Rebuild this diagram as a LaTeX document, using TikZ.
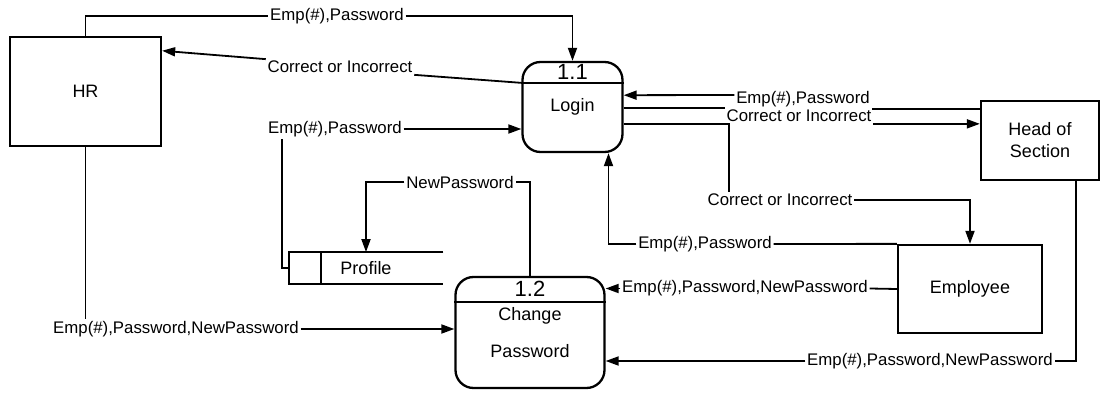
\documentclass[tikz,border=0pt]{standalone}
\usepackage{fontspec}
\setmainfont{Liberation Sans}
\usepackage{tikz}
\usetikzlibrary{arrows.meta}

\begin{document}
\begin{tikzpicture}[x=1pt, y=-1pt, line width=1.8pt,
    every node/.style={font=\fontsize{16.8}{20}\selectfont, inner sep=1pt},
    entity/.style={draw, rectangle, line width=2.3pt, font=\fontsize{18}{22}\selectfont, align=center},
    process/.style={draw, rectangle, rounded corners=18pt, line width=2.3pt, font=\fontsize{18}{22}\selectfont, align=center},
    procid/.style={font=\fontsize{22}{26}\selectfont},
    flow/.style={-{Triangle[length=13pt,width=9pt]}}]
    \useasboundingbox (0,0) rectangle (1104,393);

    % External entities
    \node[entity, minimum width=151pt, minimum height=109pt] (hr) at (85.5,91.5) {HR};
    \node[entity, minimum width=118pt, minimum height=79pt] (head) at (1040,140.5) {Head of\\Section};
    \node[entity, minimum width=144pt, minimum height=88pt] (emp) at (970,289) {Employee};

    % Processes
    \node[process, minimum width=100pt, minimum height=90pt] (login) at (572.5,107) {Login};
    \node[procid] (loginid) at ([yshift=-11pt]login.north) {1.1};
    \draw ([yshift=-22pt]login.north west) -- ([yshift=-22pt]login.north east);

    \node[process, minimum width=149pt, minimum height=111pt] (chpw) at (530,332.5) {Change\\[15pt]Password};
    \node[procid] (chpwid) at ([yshift=-13pt]chpw.north) {1.2};
    \draw ([yshift=-26pt]chpw.north west) -- ([yshift=-26pt]chpw.north east);

    % Data store
    \node[minimum width=153pt, minimum height=30pt, font=\fontsize{18}{22}\selectfont] (profile) at (366,268) {Profile};
    \draw (profile.north east) -- (profile.north west) -- (profile.south west) -- (profile.south east);
    \draw ([xshift=32pt]profile.north west) -- ([xshift=32pt]profile.south west);

    % Flow labels
    \node (hrlogin) at (337,16) {Emp(\#),Password};
    \node (loginhr) at (340,67) {Correct or Incorrect};
    \node (storelogin) at (335,129) {Emp(\#),Password};
    \node (newpw) at (460,182) {NewPassword};
    \node (headlogin) at (803,99) {Emp(\#),Password};
    \node (loginhead) at (799,116) {Correct or Incorrect};
    \node (loginemp) at (780,200) {Correct or Incorrect};
    \node (emplogin) at (705,244) {Emp(\#),Password};
    \node (empchpw) at (745,288.5) {Emp(\#),Password,NewPassword};
    \node (headchpw) at (930,361) {Emp(\#),Password,NewPassword};
    \node (hrchpw) at (176,329) {Emp(\#),Password,NewPassword};

    % Flows
    \draw (hr.north) |- (hrlogin.west);
    \draw[flow] (hrlogin.east) -| (login.north);
    \draw ([yshift=-22pt]login.north west) -- (loginhr.south east);
    \draw[flow] (loginhr.north west) -- (hr.28);
    \draw (profile.west) -| ([xshift=16pt]storelogin.south west);
    \draw[flow] (storelogin.east) -- (login.west |- storelogin.east);
    \draw (chpw.north) |- (newpw.east);
    \draw[flow] (newpw.west) -| (profile.north);
    \draw (head.west |- headlogin.south east) -- (headlogin.south east);
    \draw[flow] ([yshift=4pt]headlogin.west) -- (login.13.5);
    \draw (login.east |- loginhead.north west) -- (loginhead.north west);
    \draw[flow] (loginhead.south east) -- (head.west |- loginhead.south east);
    \draw (login.-18) -| ([xshift=23pt]loginemp.north west);
    \draw[flow] (loginemp.east) -| (emp.north);
    \draw (emp.north west) -- (emplogin.east);
    \draw[flow] (emplogin.west) -| ([xshift=36pt]login.south);
    \draw (emp.west) -- (empchpw.east);
    \draw[flow] (empchpw.west) -- (chpw.east |- empchpw.west);
    \draw ([xshift=-24pt]head.south east) |- (headchpw.east);
    \draw[flow] (headchpw.west) -- (chpw.east |- headchpw.west);
    \draw (hr.south) -- (hr.south |- hrchpw.north);
    \draw[flow] (hrchpw.east) -- (chpw.west |- hrchpw.east);
\end{tikzpicture}
\end{document}
